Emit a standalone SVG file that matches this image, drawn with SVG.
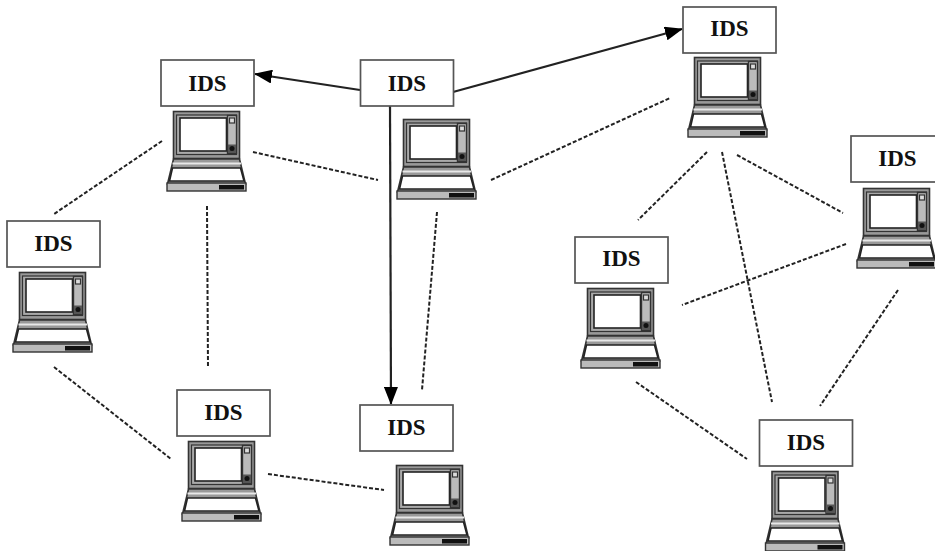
<svg xmlns="http://www.w3.org/2000/svg" width="935" height="551" viewBox="0 0 935 551">
<style>
.box{fill:#fff;stroke:#555;stroke-width:1.7}
.lbl{font-family:"Liberation Serif",serif;font-size:23px;font-weight:bold;fill:#111;text-anchor:middle}
.dash{fill:none;stroke:#222;stroke-width:2;stroke-dasharray:4 2}
.solid{fill:none;stroke:#222;stroke-width:2.2}
.m{fill:#999;stroke:#333;stroke-width:1.6}
.g{fill:#bbb;stroke:#333;stroke-width:1.4}
.w{fill:#fff;stroke:#222;stroke-width:1.6}
.k{fill:#111}
</style>
<defs>
<marker id="arrow" markerUnits="userSpaceOnUse" markerWidth="18" markerHeight="14" refX="17" refY="7" orient="auto"><path d="M0 0L18 7L0 14Z" fill="#000"/></marker>
<g id="laptop">
<rect class="m" x="0.500" y="0.500" width="66" height="47"/>
<rect x="3.500" y="4" width="60" height="39.500" fill="#aaa" stroke="#333" stroke-width="1.200"/>
<rect class="w" x="7" y="7" width="46.500" height="33"/>
<rect class="g" x="54.500" y="4.500" width="9" height="38"/>
<rect x="56.500" y="7" width="5" height="5" fill="#ddd" stroke="#333" stroke-width="1.200"/>
<rect x="55" y="33.500" width="8" height="8.500" fill="#555"/>
<circle cx="59" cy="37.500" r="2.500" fill="#111"/>
<path d="M0.500 48L66.500 48L72.500 73L-5.500 73Z" fill="#999" stroke="#333" stroke-width="1.600"/>
<path d="M-0.500 52.500L68 52.500" stroke="#e8e8e8" stroke-width="2.200"/>
<path d="M-0.500 57L67.500 57L71 70L-3.500 70Z" fill="#fff" stroke="#222" stroke-width="1.600"/>
<rect class="g" x="-6" y="72" width="79" height="8"/>
<rect class="k" x="46" y="74" width="25" height="4.500"/>
</g>
</defs>
<g id="connectors">
<path class="dash" d="M162 141L54 214"/>
<path class="dash" d="M253 152L378 180"/>
<path class="dash" d="M207 206L208 368"/>
<path class="dash" d="M54 367L171 459"/>
<path class="dash" d="M268 474L384 490"/>
<path class="dash" d="M437 212L422 390"/>
<path class="dash" d="M491 180L670 98"/>
<path class="dash" d="M707 152L638 220"/>
<path class="dash" d="M722 152L772 402"/>
<path class="dash" d="M737 155L843 213"/>
<path class="dash" d="M846 244L682 305"/>
<path class="dash" d="M898 290L820 406"/>
<path class="dash" d="M636 382L747 459"/>
<path class="solid" d="M360 90L255 74" marker-end="url(#arrow)"/>
<path class="solid" d="M453 92L682 29" marker-end="url(#arrow)"/>
<path class="solid" d="M390 106L391 404" marker-end="url(#arrow)"/>
</g>
<g id="node1"><rect class="box" x="161" y="60" width="93" height="46"/><text class="lbl" x="207.500" y="90.500">IDS</text><use href="#laptop" x="173" y="111"/></g>
<g id="node2"><rect class="box" x="360.500" y="60" width="93" height="46"/><text class="lbl" x="407" y="90.500">IDS</text><use href="#laptop" x="403" y="119"/></g>
<g id="node3"><rect class="box" x="683" y="7" width="93" height="46"/><text class="lbl" x="729.500" y="36">IDS</text><use href="#laptop" x="694" y="57"/></g>
<g id="node4"><rect class="box" x="851" y="136" width="93" height="46"/><text class="lbl" x="897.500" y="166">IDS</text><use href="#laptop" x="863" y="188"/></g>
<g id="node5"><rect class="box" x="575" y="237" width="93" height="46"/><text class="lbl" x="621.500" y="266">IDS</text><use href="#laptop" x="587" y="288"/></g>
<g id="node6"><rect class="box" x="759.500" y="420" width="93" height="46"/><text class="lbl" x="806" y="450">IDS</text><use href="#laptop" x="771.500" y="471"/></g>
<g id="node7"><rect class="box" x="7" y="221" width="93" height="46"/><text class="lbl" x="53.500" y="251">IDS</text><use href="#laptop" x="19" y="272"/></g>
<g id="node8"><rect class="box" x="177" y="390" width="93" height="46"/><text class="lbl" x="223.500" y="420">IDS</text><use href="#laptop" x="188" y="441"/></g>
<g id="node9"><rect class="box" x="360" y="405" width="93" height="46"/><text class="lbl" x="406.500" y="435">IDS</text><use href="#laptop" x="396" y="465"/></g>
</svg>
